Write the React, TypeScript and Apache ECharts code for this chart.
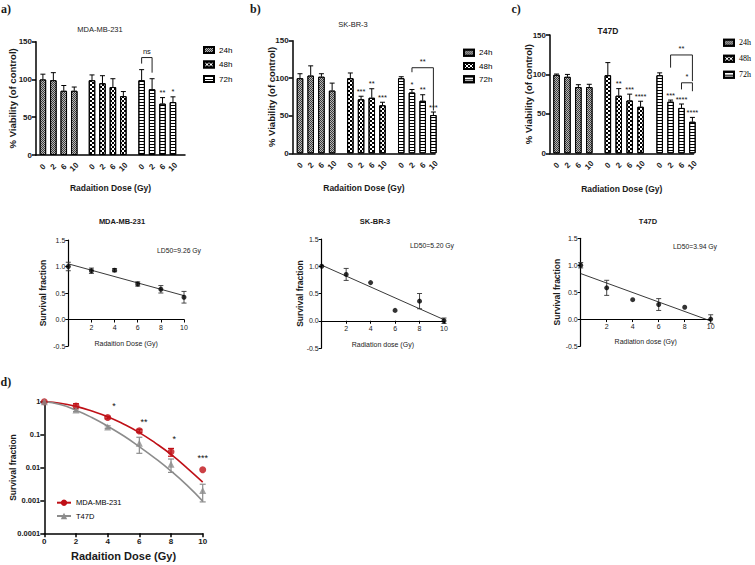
import React, { useEffect, useRef } from "react";
import * as echarts from "echarts";

// ---------------- data ----------------
const doseLabels = ["0", "2", "6", "10"];
const timeNames = ["24h", "48h", "72h"];

// a) MDA-MB-231 viability (% of control)
const mdaV24 = [100, 99, 85, 85];
const mdaE24 = [7, 10, 7, 5];
const mdaV48 = [99, 95, 90, 78];
const mdaE48 = [7, 10, 11, 6];
const mdaV72 = [99, 87, 68, 70];
const mdaE72 = [14, 14, 8, 7];
const mdaS24 = ["", "", "", ""];
const mdaS48 = ["", "", "", ""];
const mdaS72 = ["", "", "**", "*"];
// bracket: [fromBar, toBar, top, leftEnd, rightEnd] (bar index 0..11)
const mdaBrackets = [[8, 9, 129, 121, 109]];
const mdaBracketLabels = ["ns"];

// b) SK-BR-3 viability
const skV24 = [100, 103.5, 102, 83.5];
const skE24 = [6, 13, 4, 10];
const skV48 = [100, 72, 74, 64];
const skE48 = [7, 4, 12, 4];
const skV72 = [100, 81, 70, 51];
const skE72 = [2, 4, 8, 4];
const skS24 = ["", "", "", ""];
const skS48 = ["", "***", "**", "***"];
const skS72 = ["", "*", "**", "***"];
const skBrackets = [[9, 11, 114, 108, 57]];
const skBracketLabels = ["**"];

// c) T47D viability
const t47V24 = [99.5, 97, 84, 84];
const t47E24 = [1, 3, 3, 3.5];
const t47V48 = [99, 73, 67, 59];
const t47E48 = [16, 9, 8, 7];
const t47V72 = [99, 65.5, 57.5, 40];
const t47E72 = [3, 2, 5, 5.5];
const t47S24 = ["", "", "", ""];
const t47S48 = ["", "**", "***", "****"];
const t47S72 = ["", "***", "****", "****"];
const t47Brackets = [
  [9, 11, 124.7, 108.6, 91.5],
  [10, 11, 89.4, 81, 78.7],
];
const t47BracketLabels = ["**", "*"];

// survival fraction (linear) panels
const survDose = [0, 2, 4, 6, 8, 10];
const survTicks = [2, 4, 6, 8, 10];
const mdaSurv = [1.0, 0.92, 0.93, 0.67, 0.57, 0.42];
const mdaSurvErr = [0.08, 0.05, 0.03, 0.04, 0.07, 0.11];
const mdaFitX = [0, 10];
const mdaFitY = [1.05, 0.45];
const skSurv = [1.0, 0.85, 0.7, 0.19, 0.36, 0.0];
const skSurvErr = [0, 0.11, 0, 0, 0.14, 0.05];
const skFitX = [0, 10];
const skFitY = [1.02, 0.02];
const t47Surv = [1.0, 0.58, 0.36, 0.27, 0.22, 0.0];
const t47SurvErr = [0.05, 0.14, 0, 0.11, 0, 0.08];
const t47FitX = [0, 10];
const t47FitY = [0.845, -0.035];

// d) log survival curves
const dDose = [0, 2, 4, 6, 8, 10];
const dMda = [1, 0.74, 0.33, 0.13, 0.03, 0.0085];
const dMdaSd = [0, 0.13, 0.03, 0.015, 0.008, 0];
const dT47 = [1, 0.56, 0.17, 0.055, 0.0126, 0.002];
const dT47Sd = [0, 0.06, 0.015, 0.028, 0.0055, 0.0011];
const dFitDose = [0, 1, 2, 3, 4, 5, 6, 7, 8, 9, 10];
const dMdaFit = [1, 0.9, 0.72, 0.52, 0.35, 0.21, 0.115, 0.056, 0.025, 0.0098, 0.0036];
const dT47Fit = [1, 0.82, 0.55, 0.33, 0.18, 0.092, 0.043, 0.019, 0.0078, 0.0029, 0.00095];
const dStarX = [4.4, 6.3, 8.2, 10];
const dStarY = [0.85, 0.28, 0.085, 0.023];
const dStars = ["*", "**", "*", "***"];

// ---------------- layout / style ----------------
const SLOT = [0, 1, 2, 3, 4.7, 5.7, 6.7, 7.7, 9.45, 10.45, 11.45, 12.45];
const AX = "#000";
const TXT = "#1a1a1a";
const SANS = "'Liberation Sans', Arial, Helvetica, sans-serif";
const SERIF = "'Liberation Serif', 'Times New Roman', serif";
const RED = "#bf1017";
const GREY = "#8c8c8c";

const DECALS: any[] = [
  { symbol: "rect", symbolSize: 1, symbolKeepAspect: false, color: "#b8b8b8", dashArrayX: [[1, 1], [0, 1, 1, 0]], dashArrayY: [1, 0], rotation: 0 },
  { symbol: "rect", symbolSize: 1, symbolKeepAspect: false, color: "#000000", dashArrayX: [[2, 2], [0, 2, 2, 0]], dashArrayY: [2, 0], rotation: 0 },
  { symbol: "rect", symbolSize: 1, symbolKeepAspect: false, color: "#000000", dashArrayX: [4, 0], dashArrayY: [1, 2], rotation: 0 },
];
const FILLS = ["#3c3c3c", "#ffffff", "#ffffff"];

function slotLabel(v: number) {
  for (let i = 0; i < SLOT.length; i++) if (Math.abs(SLOT[i] - v) < 1e-6) return doseLabels[i % 4];
  return "";
}

function txt(text: string, x: number, y: number, font: string, align = "center") {
  return {
    type: "text", x, y, silent: true,
    style: { text, font, fill: TXT, align, textAlign: align, verticalAlign: "middle", textVerticalAlign: "middle" },
  };
}

type Out = { grid: any[]; xAxis: any[]; yAxis: any[]; series: any[]; legend: any[] };

function addGrid(out: Out, box: number[]) {
  out.grid.push({ left: box[0], top: box[1], width: box[2], height: box[3], containLabel: false, outerBoundsMode: "none" });
  return out.grid.length - 1;
}

function legendText(fontFamily: string, size: number) {
  return {
    fontSize: size, color: "#000", fontFamily, lineHeight: 10,
    rich: { t: { fontSize: size, color: "#000000", fontFamily, lineHeight: 10 } },
  };
}

function barPanel(out: Out, c: any) {
  const gi = addGrid(out, c.box);
  out.xAxis.push({
    gridIndex: gi, type: "value", min: c.xMin, max: c.xMax,
    splitLine: { show: false },
    axisLine: { show: true, onZero: false, lineStyle: { color: AX, width: 1.5 } },
    axisTick: { show: false },
    axisLabel: {
      customValues: SLOT, rotate: 45, align: "center", verticalAlign: "middle", margin: 12,
      formatter: (v: number) => slotLabel(v), fontSize: 8, fontWeight: "bold", color: TXT, fontFamily: SANS,
    },
    name: c.xName, nameLocation: "middle", nameGap: c.xNameGap, nameMoveOverlap: false,
    nameTextStyle: { fontSize: 8.5, fontWeight: "bold", color: TXT, fontFamily: SANS },
  });
  const xi = out.xAxis.length - 1;
  out.yAxis.push({
    gridIndex: gi, type: "value", min: 0, max: 150, interval: 50,
    splitLine: { show: false },
    axisLine: { show: true, onZero: false, lineStyle: { color: AX, width: 1.5 } },
    axisTick: { show: true, length: 4, lineStyle: { color: AX, width: 1.5 } },
    axisLabel: { fontSize: 8, fontWeight: "bold", color: TXT, fontFamily: SANS, margin: 4 },
    name: "% Viability (of control)", nameLocation: "middle", nameGap: c.yNameGap, nameMoveOverlap: false,
    nameTextStyle: { fontSize: 9.5, fontWeight: "bold", color: TXT, fontFamily: SANS },
  });
  const yi = out.yAxis.length - 1;
  const fx: number[] = [], fv: number[] = [], fe: number[] = [], fs: string[] = [];
  for (let g = 0; g < 3; g++) {
    out.series.push({
      type: "bar", name: timeNames[g], xAxisIndex: xi, yAxisIndex: yi, silent: true,
      barWidth: 6.5, barGap: "-100%",
      data: c.values[g].map((v: number, k: number) => [SLOT[g * 4 + k], v]),
      itemStyle: { color: FILLS[g], borderColor: "#000", borderWidth: 1, decal: DECALS[g] },
    });
    c.values[g].forEach((v: number, k: number) => {
      fx.push(SLOT[g * 4 + k]); fv.push(v); fe.push(c.errs[g][k]); fs.push(c.stars[g][k]);
    });
  }
  out.series.push({
    type: "custom", xAxisIndex: xi, yAxisIndex: yi, silent: true, z: 5,
    encode: { x: 0, y: 1 },
    itemStyle: { color: "#000" },
    data: fx.map((x, i) => [x, fv[i], fe[i]]),
    renderItem: (params: any, api: any) => {
      const i = params.dataIndex;
      const x = api.value(0), v = api.value(1), e = api.value(2);
      const p0 = api.coord([x, v]);
      const p1 = api.coord([x, v + e]);
      const ch: any[] = [
        { type: "line", shape: { x1: p0[0], y1: p0[1], x2: p1[0], y2: p1[1] }, style: { stroke: "#000", lineWidth: 1 } },
        { type: "line", shape: { x1: p1[0] - 2.5, y1: p1[1], x2: p1[0] + 2.5, y2: p1[1] }, style: { stroke: "#000", lineWidth: 1 } },
      ];
      if (fs[i]) {
        ch.push({ type: "text", x: p1[0], y: p1[1] - 1, style: { text: fs[i], align: "center", verticalAlign: "bottom", textAlign: "center", textVerticalAlign: "bottom", fill: "#111", font: "7.5px " + SANS } });
      }
      return { type: "group", children: ch };
    },
  });
  out.series.push({
    type: "custom", xAxisIndex: xi, yAxisIndex: yi, silent: true, z: 5,
    encode: { x: [0, 2], y: [1, 3, 4] },
    itemStyle: { color: "#000" },
    data: c.brackets.map((b: number[]) => [SLOT[b[0]], b[2], SLOT[b[1]], b[3], b[4]]),
    renderItem: (params: any, api: any) => {
      const i = params.dataIndex;
      const xa = api.value(0), top = api.value(1), xb = api.value(2), l = api.value(3), r = api.value(4);
      const pL = api.coord([xa, l]), pTL = api.coord([xa, top]), pTR = api.coord([xb, top]), pR = api.coord([xb, r]);
      return {
        type: "group",
        children: [
          { type: "polyline", shape: { points: [pL, pTL, pTR, pR] }, style: { stroke: "#222", lineWidth: 1, fill: "none" } },
          { type: "text", x: (pTL[0] + pTR[0]) / 2, y: pTL[1] - 2, style: { text: c.bracketLabels[i], align: "center", verticalAlign: "bottom", textAlign: "center", textVerticalAlign: "bottom", fill: "rgb(20,20,20)", font: "7.5px " + SANS } },
        ],
      };
    },
  });
  out.legend.push({
    data: timeNames.slice(), orient: "vertical", left: c.legend[0], top: c.legend[1], itemGap: c.legend[2],
    itemWidth: 10, itemHeight: 6, icon: "rect", selectedMode: false, padding: 0,
    formatter: "{t|{name}}",
    textStyle: legendText(c.legendFont, 8),
  });
}

function survPanel(out: Out, c: any) {
  // main data grid (y from -0.5 to 1.5)
  const gi = addGrid(out, c.box);
  out.xAxis.push({ gridIndex: gi, type: "value", min: 0, max: 10, show: false });
  const xi = out.xAxis.length - 1;
  out.yAxis.push({
    gridIndex: gi, type: "value", min: -0.5, max: 1.5, interval: 0.5,
    splitLine: { show: false },
    axisLine: { show: true, onZero: false, lineStyle: { color: AX, width: 1.2 } },
    axisTick: { show: true, length: 3, lineStyle: { color: AX, width: 1 } },
    axisLabel: { fontSize: 7, color: TXT, fontFamily: SANS, margin: 3, formatter: (v: number) => v.toFixed(1) },
    name: "Survival fraction", nameLocation: "middle", nameGap: c.yNameGap, nameMoveOverlap: false,
    nameTextStyle: { fontSize: 8.5, fontWeight: "bold", color: TXT, fontFamily: SANS },
  });
  const yi = out.yAxis.length - 1;
  // overlay grid whose bottom edge is the zero line, carrying the dose axis
  const zeroH = c.box[3] * 0.75;
  const gz = addGrid(out, [c.box[0], c.box[1], c.box[2], zeroH]);
  out.xAxis.push({
    gridIndex: gz, type: "value", min: 0, max: 10,
    splitLine: { show: false },
    axisLine: { show: true, onZero: false, lineStyle: { color: AX, width: 1.2 } },
    axisTick: { show: true, length: 3, lineStyle: { color: AX, width: 1 }, customValues: survTicks },
    axisLabel: { customValues: survTicks, fontSize: 7, color: TXT, fontFamily: SANS, margin: 4 },
    name: c.xName, nameLocation: "middle", nameGap: c.xNameGap, nameMoveOverlap: false,
    nameTextStyle: { fontSize: 7, color: TXT, fontFamily: SANS },
  });
  out.yAxis.push({ gridIndex: gz, type: "value", min: 0, max: 1.5, show: false });

  out.series.push({
    type: "line", xAxisIndex: xi, yAxisIndex: yi, silent: true, symbol: "none",
    data: c.fitX.map((x: number, i: number) => [x, c.fitY[i]]),
    lineStyle: { color: "#222", width: 0.9 },
  });
  out.series.push({
    type: "scatter", xAxisIndex: xi, yAxisIndex: yi, silent: true, symbol: "circle", symbolSize: 5, z: 4,
    data: survDose.map((d, i) => [d, c.mean[i]]),
    itemStyle: { color: "#000" },
  });
  out.series.push({
    type: "custom", xAxisIndex: xi, yAxisIndex: yi, silent: true, z: 3,
    encode: { x: 0, y: 1 },
    itemStyle: { color: "#000" },
    data: survDose.map((d, i) => [d, c.mean[i], c.err[i]]),
    renderItem: (params: any, api: any) => {
      const x = api.value(0), v = api.value(1), e = api.value(2);
      if (!e) return null;
      const a = api.coord([x, v - e]), b = api.coord([x, v + e]);
      const st = { stroke: "#333", lineWidth: 0.9 };
      return {
        type: "group",
        children: [
          { type: "line", shape: { x1: a[0], y1: a[1], x2: b[0], y2: b[1] }, style: st },
          { type: "line", shape: { x1: a[0] - 2.5, y1: a[1], x2: a[0] + 2.5, y2: a[1] }, style: st },
          { type: "line", shape: { x1: b[0] - 2.5, y1: b[1], x2: b[0] + 2.5, y2: b[1] }, style: st },
        ],
      };
    },
  });
}

function fmtLog(v: number) {
  const e = Math.round(Math.log10(v));
  if (e >= 0) return String(Math.pow(10, e));
  return Math.pow(10, e).toFixed(-e);
}

function logPanel(out: Out) {
  const gi = addGrid(out, [44.3, 401.7, 158.4, 131.6]);
  out.xAxis.push({
    gridIndex: gi, type: "value", min: 0, max: 10, interval: 2,
    splitLine: { show: false },
    axisLine: { show: true, onZero: false, lineStyle: { color: AX, width: 1.5 } },
    axisTick: { show: true, length: 4, lineStyle: { color: AX, width: 1.5 } },
    axisLabel: { fontSize: 8, fontWeight: "bold", color: TXT, fontFamily: SANS, margin: 4 },
    name: "Radaition Dose (Gy)", nameLocation: "middle", nameGap: 17, nameMoveOverlap: false,
    nameTextStyle: { fontSize: 11, fontWeight: "bold", color: TXT, fontFamily: SANS },
  });
  const xi = out.xAxis.length - 1;
  out.yAxis.push({
    gridIndex: gi, type: "log", logBase: 10, min: 0.0001, max: 1,
    splitLine: { show: false }, minorTick: { show: false },
    axisLine: { show: true, onZero: false, lineStyle: { color: AX, width: 1.5 } },
    axisTick: { show: true, length: 4, lineStyle: { color: AX, width: 1.5 } },
    axisLabel: { fontSize: 7.5, fontWeight: "bold", color: TXT, fontFamily: SANS, margin: 4, formatter: (v: number) => fmtLog(v) },
    name: "Survival fraction", nameLocation: "middle", nameGap: 27, nameMoveOverlap: false,
    nameTextStyle: { fontSize: 8.5, fontWeight: "bold", color: TXT, fontFamily: SANS },
  });
  const yi = out.yAxis.length - 1;
  const curves = [
    { name: "MDA-MB-231", fit: dMdaFit, mean: dMda, sd: dMdaSd, color: RED, symbol: "circle", size: 7 },
    { name: "T47D", fit: dT47Fit, mean: dT47, sd: dT47Sd, color: GREY, symbol: "triangle", size: 7 },
  ];
  curves.forEach((cv) => {
    out.series.push({
      type: "line", name: cv.name, xAxisIndex: xi, yAxisIndex: yi, silent: true, smooth: true,
      symbol: cv.symbol, symbolSize: cv.size, showSymbol: false,
      data: dFitDose.map((x, i) => [x, cv.fit[i]]),
      lineStyle: { color: cv.color, width: 1.6 }, itemStyle: { color: cv.color },
    });
  });
  curves.forEach((cv) => {
    out.series.push({
      type: "scatter", name: cv.name + " data", xAxisIndex: xi, yAxisIndex: yi, silent: true, z: 4,
      symbol: cv.symbol, symbolSize: cv.size,
      data: dDose.map((x, i) => [x, cv.mean[i]]),
      itemStyle: { color: cv.color },
    });
    out.series.push({
      type: "custom", xAxisIndex: xi, yAxisIndex: yi, silent: true, z: 3,
      encode: { x: 0, y: 1 },
      itemStyle: { color: cv.color },
      data: dDose.map((x, i) => [x, cv.mean[i], cv.sd[i]]),
      renderItem: (params: any, api: any) => {
        const x = api.value(0), v = api.value(1), e = api.value(2);
        if (!e) return null;
        const a = api.coord([x, v - e]), b = api.coord([x, v + e]);
        const st = { stroke: cv.color, lineWidth: 1.2 };
        return {
          type: "group",
          children: [
            { type: "line", shape: { x1: a[0], y1: a[1], x2: b[0], y2: b[1] }, style: st },
            { type: "line", shape: { x1: a[0] - 3, y1: a[1], x2: a[0] + 3, y2: a[1] }, style: st },
            { type: "line", shape: { x1: b[0] - 3, y1: b[1], x2: b[0] + 3, y2: b[1] }, style: st },
          ],
        };
      },
    });
  });
  out.series.push({
    type: "custom", xAxisIndex: xi, yAxisIndex: yi, silent: true, z: 6,
    encode: { x: 0, y: 1 },
    itemStyle: { color: "#000" },
    data: dStarX.map((x, i) => [x, dStarY[i]]),
    renderItem: (params: any, api: any) => {
      const p = api.coord([api.value(0), api.value(1)]);
      return { type: "text", x: p[0], y: p[1] + 2, style: { text: dStars[params.dataIndex], align: "center", verticalAlign: "middle", textAlign: "center", textVerticalAlign: "middle", fill: "#111", font: "9px " + SANS } };
    },
  });
  out.legend.push({
    data: ["MDA-MB-231", "T47D"], orient: "vertical", left: 56, top: 497.7, itemGap: 3.3,
    itemWidth: 14, itemHeight: 8, selectedMode: false, padding: 0,
    formatter: "{t|{name}}",
    textStyle: legendText(SANS, 7.5),
  });
}

function buildOption() {
  const out: Out = { grid: [], xAxis: [], yAxis: [], series: [], legend: [] };
  barPanel(out, {
    box: [36, 41.7, 149, 113.3], xMin: -0.66, xMax: 13.6,
    values: [mdaV24, mdaV48, mdaV72], errs: [mdaE24, mdaE48, mdaE72], stars: [mdaS24, mdaS48, mdaS72],
    brackets: mdaBrackets, bracketLabels: mdaBracketLabels,
    xName: "Radaition Dose (Gy)", xNameGap: 28, yNameGap: 19,
    legend: [203, 45, 4.5], legendFont: SANS,
  });
  barPanel(out, {
    box: [292.7, 40.7, 142.3, 112.6], xMin: -0.68, xMax: 12.6,
    values: [skV24, skV48, skV72], errs: [skE24, skE48, skE72], stars: [skS24, skS48, skS72],
    brackets: skBrackets, bracketLabels: skBracketLabels,
    xName: "Radaition Dose (Gy)", xNameGap: 30, yNameGap: 16,
    legend: [463, 47.7, 3.3], legendFont: SANS,
  });
  barPanel(out, {
    box: [550, 35, 143.5, 118.3], xMin: -0.6, xMax: 12.55,
    values: [t47V24, t47V48, t47V72], errs: [t47E24, t47E48, t47E72], stars: [t47S24, t47S48, t47S72],
    brackets: t47Brackets, bracketLabels: t47BracketLabels,
    xName: "Radiation Dose (Gy)", xNameGap: 31, yNameGap: 17,
    legend: [723, 37.7, 6], legendFont: SERIF,
  });
  survPanel(out, {
    box: [68.3, 240, 115.7, 106], mean: mdaSurv, err: mdaSurvErr, fitX: mdaFitX, fitY: mdaFitY,
    xName: "Radaition Dose (Gy)", xNameGap: 20, yNameGap: 21,
  });
  survPanel(out, {
    box: [321.7, 239, 122.3, 109], mean: skSurv, err: skSurvErr, fitX: skFitX, fitY: skFitY,
    xName: "Radiation dose (Gy)", xNameGap: 20, yNameGap: 17,
  });
  survPanel(out, {
    box: [580.7, 238.3, 130, 107.7], mean: t47Surv, err: t47SurvErr, fitX: t47FitX, fitY: t47FitY,
    xName: "Radiation dose (Gy)", xNameGap: 19, yNameGap: 19,
  });
  logPanel(out);

  const F = (w: string, s: number, fam: string) => `${w} ${s}px ${fam}`;
  const elements = [
    txt("a)", 1, 8.8, F("bold", 12, SERIF), "left"),
    txt("b)", 250, 8.7, F("bold", 12, SERIF), "left"),
    txt("c)", 511.5, 9, F("bold", 12, SERIF), "left"),
    txt("d)", 0.5, 381.7, F("bold", 12, SERIF), "left"),
    txt("MDA-MB-231", 100, 29.5, F("normal", 7.5, SANS)),
    txt("SK-BR-3", 353, 24, F("normal", 7.5, SANS)),
    txt("T47D", 608, 30.8, F("bold", 8.5, SANS)),
    txt("MDA-MB-231", 122, 221.5, F("bold", 7.5, SANS)),
    txt("SK-BR-3", 375, 221.5, F("bold", 7.5, SANS)),
    txt("T47D", 648, 221.5, F("bold", 7.5, SANS)),
    txt("LD50=9.26 Gy", 157, 250, F("normal", 6.8, SANS), "left"),
    txt("LD50=5.20 Gy", 410, 245, F("normal", 6.8, SANS), "left"),
    txt("LD50=3.94 Gy", 673, 246.7, F("normal", 6.8, SANS), "left"),
  ];

  return {
    animation: false,
    backgroundColor: "#ffffff",
    color: ["#000000"],
    textStyle: { fontFamily: SANS, color: TXT },
    grid: out.grid,
    xAxis: out.xAxis,
    yAxis: out.yAxis,
    series: out.series,
    legend: out.legend,
    graphic: { elements },
  };
}

export default function App() {
  const ref = useRef<HTMLDivElement>(null);
  useEffect(() => {
    const chart = echarts.init(ref.current as HTMLDivElement, null, { renderer: "svg" });
    chart.setOption(buildOption() as any);
    return () => chart.dispose();
  }, []);
  return (
    <div
      ref={ref}
      style={{ position: "fixed", left: 0, top: 0, width: 755, height: 565, background: "#fff" }}
    />
  );
}
